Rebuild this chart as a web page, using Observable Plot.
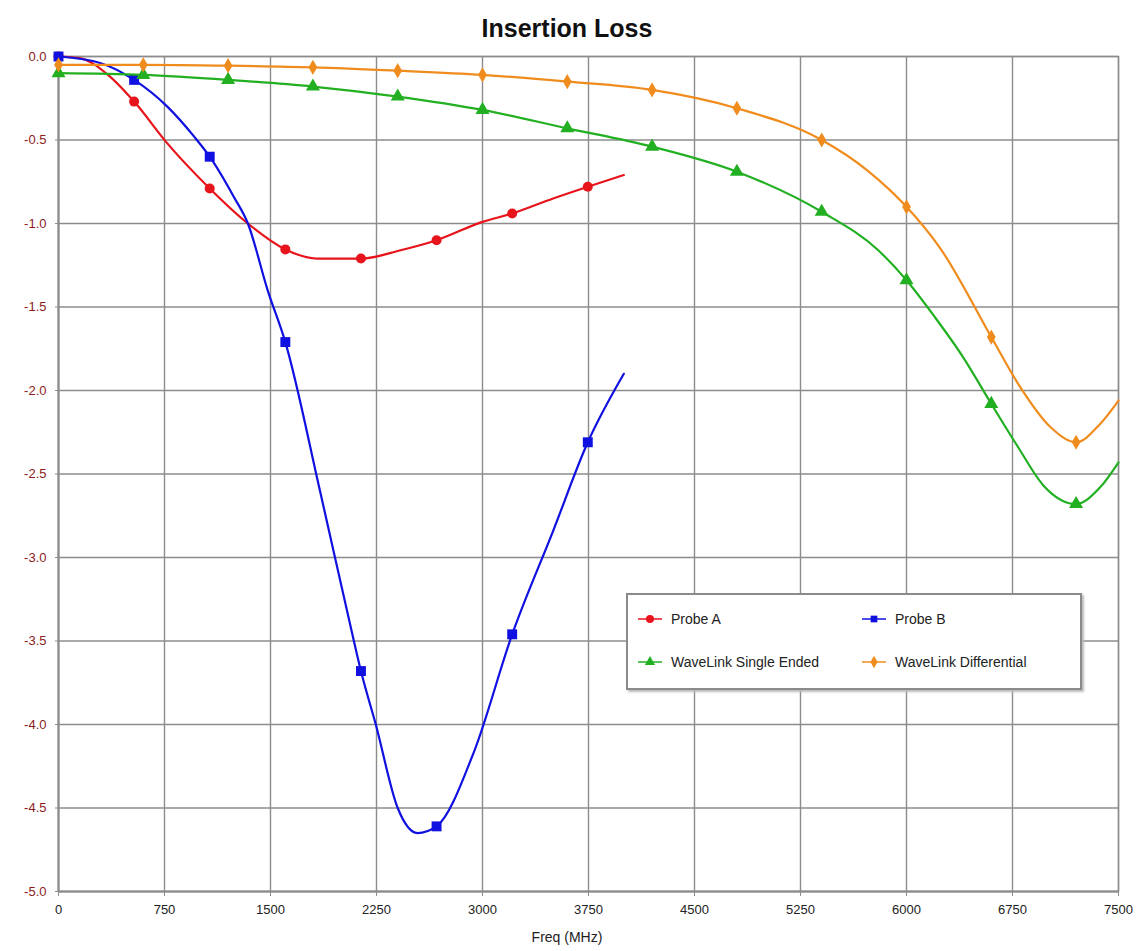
<!DOCTYPE html>
<html>
<head>
<meta charset="utf-8">
<script src="https://cdn.jsdelivr.net/npm/d3@7"></script>
<script src="https://cdn.jsdelivr.net/npm/@observablehq/plot@0.6"></script>
<style>
  body { margin: 0; background: #fff; font-family: "Liberation Sans", Arial, sans-serif; }
  #wrap { position: relative; width: 1140px; height: 951px; }
  #title { height: 44px; line-height: 56px; text-align: center; font-weight: bold; font-size: 25px; color: #111; box-sizing: border-box; width: 1134px; }
  #xlabel { position: absolute; top: 929px; left: 0; width: 1134px; text-align: center; font-size: 14px; color: #222; }
  #legend { position: absolute; left: 626px; top: 593px; width: 452px; height: 93px; border: 2px solid #8a8a8a; background: #fff; box-shadow: 2px 2px 2px #bbb; }
  .item { position: absolute; font-size: 14px; color: #222; display: flex; align-items: center; }
  .item svg { margin-right: 9px; }
</style>
</head>
<body>
<div id="wrap">
  <div id="title">Insertion Loss</div>
  <div id="chart"></div>
  <div id="xlabel">Freq (MHz)</div>
  <div id="legend"></div>
</div>
<script>
// Series data: frequency (MHz) and insertion loss (dB)
const probeAFreq = [0, 150, 350, 535, 770, 1070, 1340, 1605, 1830, 2140, 2420, 2675, 3000, 3210, 3500, 3745, 4000];
const probeAVal  = [0.0, -0.01, -0.11, -0.27, -0.52, -0.79, -1.0, -1.155, -1.21, -1.21, -1.16, -1.10, -0.99, -0.94, -0.85, -0.78, -0.71];
const probeAMarks = [0, 535, 1070, 1605, 2140, 2675, 3210, 3745];

const probeBFreq = [0, 300, 535, 770, 960, 1070, 1240, 1340, 1480, 1605, 1850, 2090, 2140, 2245, 2400, 2540, 2675, 2937, 3210, 3500, 3745, 4000];
const probeBVal  = [0.0, -0.04, -0.14, -0.30, -0.48, -0.60, -0.84, -1.0, -1.40, -1.71, -2.6, -3.5, -3.68, -4.0, -4.5, -4.65, -4.61, -4.17, -3.46, -2.84, -2.31, -1.90];
const probeBMarks = [0, 535, 1070, 1605, 2140, 2675, 3210, 3745];

const seFreq = [0, 600, 1200, 1800, 2400, 3000, 3600, 4200, 4800, 5400, 5800, 6000, 6200, 6400, 6600, 6790, 6970, 7200, 7370, 7500];
const seVal  = [-0.10, -0.11, -0.14, -0.18, -0.24, -0.32, -0.43, -0.54, -0.69, -0.93, -1.16, -1.34, -1.56, -1.80, -2.08, -2.34, -2.57, -2.68, -2.58, -2.43];
const seMarks = [0, 600, 1200, 1800, 2400, 3000, 3600, 4200, 4800, 5400, 6000, 6600, 7200];

const diffFreq = [0, 600, 1200, 1800, 2400, 3000, 3600, 4200, 4800, 5400, 5720, 6000, 6240, 6600, 6790, 7020, 7200, 7370, 7500];
const diffVal  = [-0.05, -0.05, -0.055, -0.065, -0.085, -0.11, -0.15, -0.20, -0.31, -0.50, -0.68, -0.90, -1.15, -1.68, -1.96, -2.22, -2.31, -2.20, -2.06];
const diffMarks = [0, 600, 1200, 1800, 2400, 3000, 3600, 4200, 4800, 5400, 6000, 6600, 7200];

const xTicks = [0, 750, 1500, 2250, 3000, 3750, 4500, 5250, 6000, 6750, 7500];
const yTicks = [0, -0.5, -1.0, -1.5, -2.0, -2.5, -3.0, -3.5, -4.0, -4.5, -5.0];

const series = [
  {name: "Probe A", freq: probeAFreq, val: probeAVal, marks: probeAMarks, color: "#e8141b", symbol: "circle", r: 5},
  {name: "Probe B", freq: probeBFreq, val: probeBVal, marks: probeBMarks, color: "#1010e0", symbol: "square", r: 5.6},
  {name: "WaveLink Single Ended", freq: seFreq, val: seVal, marks: seMarks, color: "#22b022", symbol: "triangle", r: 5.2},
  {name: "WaveLink Differential", freq: diffFreq, val: diffVal, marks: diffMarks, color: "#f08c1e", symbol: "diamond", r: 4.6}
];

const marks = [
  Plot.gridX(xTicks, {stroke: "#8c8c8c", strokeOpacity: 1, strokeWidth: 1.4}),
  Plot.gridY(yTicks, {stroke: "#8c8c8c", strokeOpacity: 1, strokeWidth: 1.4}),
  Plot.frame({stroke: "#8c8c8c", strokeWidth: 1.4}),
  Plot.ruleX([0], {stroke: "#8c8c8c", strokeWidth: 2}),
  Plot.ruleY([-5], {stroke: "#8c8c8c", strokeWidth: 2}),
  Plot.axisX(xTicks, {tickSize: 5, tickPadding: 8, fontSize: 13, fill: "#222", stroke: "#8c8c8c", tickFormat: d => String(d), label: null}),
  Plot.axisY(yTicks, {tickSize: 3, tickPadding: 9, fontSize: 13, fill: "#8b1c1c", stroke: "#8c8c8c", tickFormat: d => d.toFixed(1), label: null})
];

for (const s of series) {
  const rows = s.freq.map((f, i) => ({f, v: s.val[i]}));
  const pts = rows.filter(d => s.marks.includes(d.f));
  marks.push(Plot.line(rows, {x: "f", y: "v", stroke: s.color, strokeWidth: 2.2, curve: "monotone-x"}));
  marks.push(Plot.dot(pts, {x: "f", y: "v", fill: s.color, stroke: "none", symbol: s.symbol, r: s.r}));
}

const chart = Plot.plot({
  width: 1140,
  height: 907,
  marginTop: 12,
  marginLeft: 58,
  marginRight: 22,
  marginBottom: 60,
  style: {fontFamily: "'Liberation Sans', Arial, sans-serif", background: "#fff"},
  x: {domain: [0, 7500]},
  y: {domain: [-5, 0]},
  marks
});
document.getElementById("chart").appendChild(chart);

// Legend
const legend = document.getElementById("legend");
const positions = [[10, 16], [234, 16], [10, 59], [234, 59]];
const symPaths = {
  circle: d3.symbol(d3.symbolCircle, 50)(),
  square: d3.symbol(d3.symbolSquare, 45)(),
  triangle: d3.symbol(d3.symbolTriangle, 45)(),
  diamond: d3.symbol(d3.symbolDiamond, 45)()
};
series.forEach((s, i) => {
  const el = document.createElement("div");
  el.className = "item";
  el.style.left = positions[i][0] + "px";
  el.style.top = positions[i][1] + "px";
  el.innerHTML = `<svg width="24" height="14"><line x1="0" x2="24" y1="7" y2="7" stroke="${s.color}" stroke-width="1.5"/><path transform="translate(12,7)" d="${symPaths[s.symbol]}" fill="${s.color}"/></svg><span>${s.name}</span>`;
  legend.appendChild(el);
});
</script>
</body>
</html>
